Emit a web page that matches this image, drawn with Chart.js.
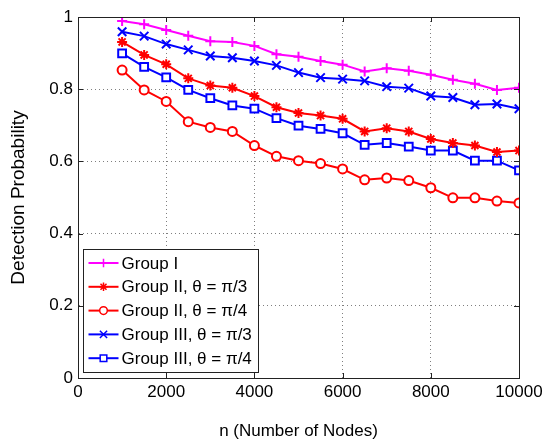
<!DOCTYPE html>
<html>
<head>
<meta charset="utf-8">
<script src="https://cdn.jsdelivr.net/npm/chart.js@4.4.1/dist/chart.umd.min.js"></script>
<style>
  html, body { margin: 0; padding: 0; background: #fff; overflow: hidden; }
</style>
</head>
<body>
<canvas id="chart" width="545" height="442"></canvas>
<script>
// node counts on the x axis
const nodes = [1000, 1500, 2000, 2500, 3000, 3500, 4000, 4500, 5000, 5500,
               6000, 6500, 7000, 7500, 8000, 8500, 9000, 9500, 10000];

// detection probability
const groupI       = [0.989, 0.980, 0.964, 0.948, 0.933, 0.931, 0.920, 0.897, 0.890, 0.878,
                      0.868, 0.849, 0.858, 0.851, 0.840, 0.826, 0.815, 0.798, 0.804];
const groupIIpi3   = [0.931, 0.895, 0.869, 0.830, 0.810, 0.804, 0.781, 0.750, 0.734, 0.727,
                      0.718, 0.683, 0.692, 0.683, 0.662, 0.651, 0.644, 0.626, 0.630];
const groupIIpi4   = [0.853, 0.798, 0.766, 0.710, 0.694, 0.683, 0.644, 0.614, 0.602, 0.594,
                      0.579, 0.549, 0.554, 0.547, 0.527, 0.499, 0.499, 0.490, 0.485];
const groupIIIpi3  = [0.959, 0.947, 0.925, 0.909, 0.892, 0.887, 0.878, 0.866, 0.846, 0.832,
                      0.828, 0.823, 0.807, 0.803, 0.781, 0.777, 0.757, 0.759, 0.746];
const groupIIIpi4  = [0.899, 0.862, 0.833, 0.798, 0.775, 0.755, 0.746, 0.720, 0.699, 0.690,
                      0.678, 0.646, 0.651, 0.641, 0.630, 0.630, 0.602, 0.602, 0.575];

const seriesLabels = ['Group I', 'Group II, \u03b8 = \u03c0/3', 'Group II, \u03b8 = \u03c0/4',
                      'Group III, \u03b8 = \u03c0/3', 'Group III, \u03b8 = \u03c0/4'];

const xTicks = [0, 2000, 4000, 6000, 8000, 10000];
const yTicks = [0, 0.2, 0.4, 0.6, 0.8, 1];

const FONT = '"Liberation Sans", Arial, Helvetica, sans-serif';

function series(label, values, color, style, radius, fill) {
    return {
        label: label,
        data: values.map((v, i) => ({ x: nodes[i], y: v })),
        borderColor: color,
        borderWidth: 2,
        pointStyle: style,
        pointRadius: radius,
        pointBorderColor: color,
        pointBackgroundColor: fill,
        pointBorderWidth: 2,
        tension: 0
    };
}

// MATLAB-like box, inward ticks and legend inside the axes
const matlabFrame = {
    id: 'matlabFrame',
    afterDatasetsDraw(chart) {
        const { ctx, chartArea: a, scales } = chart;
        ctx.save();
        ctx.strokeStyle = '#222';
        ctx.lineWidth = 1;
        ctx.setLineDash([]);
        ctx.beginPath();
        xTicks.forEach(t => {
            const px = Math.round(scales.x.getPixelForValue(t)) + 0.5;
            ctx.moveTo(px, a.bottom); ctx.lineTo(px, a.bottom - 5);
            ctx.moveTo(px, a.top); ctx.lineTo(px, a.top + 5);
        });
        yTicks.forEach(t => {
            const py = Math.round(scales.y.getPixelForValue(t)) + 0.5;
            ctx.moveTo(a.left, py); ctx.lineTo(a.left + 5, py);
            ctx.moveTo(a.right, py); ctx.lineTo(a.right - 5, py);
        });
        ctx.stroke();
        ctx.strokeRect(Math.round(a.left) + 0.5, Math.round(a.top) + 0.5,
                       Math.round(a.right - a.left), Math.round(a.bottom - a.top));

        // legend
        const bx = Math.round(a.left) + 5.5, bh = 123, bw = 175;
        const by = Math.round(a.bottom) - 5.5 - bh;
        ctx.fillStyle = '#fff';
        ctx.fillRect(bx, by, bw, bh);
        ctx.strokeStyle = '#222';
        ctx.strokeRect(bx, by, bw, bh);

        ctx.font = '17px ' + FONT;
        ctx.textBaseline = 'middle';
        chart.data.datasets.forEach((ds, i) => {
            const y = by + 13.5 + i * 23.8;
            ctx.strokeStyle = ds.borderColor;
            ctx.lineWidth = 2;
            ctx.beginPath();
            ctx.moveTo(bx + 5, y); ctx.lineTo(bx + 35, y);
            ctx.stroke();
            ctx.fillStyle = ds.pointBackgroundColor;
            ctx.lineWidth = 1.5;
            Chart.helpers.drawPoint(ctx, {
                pointStyle: ds.pointStyle,
                radius: ds.pointRadius * 0.85,
                rotation: 0,
                borderWidth: 1.5
            }, bx + 20, y);
            ctx.fillStyle = '#000';
            ctx.fillText(ds.label, bx + 38, y + 1);
        });
        ctx.restore();
    }
};

new Chart(document.getElementById('chart'), {
    type: 'line',
    data: {
        datasets: [
            series(seriesLabels[0], groupI, '#ff00ff', 'cross', 5, '#ff00ff'),
            series(seriesLabels[1], groupIIpi3, '#ff0000', 'star', 5, '#ff0000'),
            series(seriesLabels[2], groupIIpi4, '#ff0000', 'circle', 4.5, '#ffffff'),
            series(seriesLabels[3], groupIIIpi3, '#0000ff', 'crossRot', 6, '#0000ff'),
            series(seriesLabels[4], groupIIIpi4, '#0000ff', 'rect', 5.5, '#ffffff')
        ]
    },
    options: {
        responsive: false,
        animation: false,
        layout: { padding: { top: 17, right: 26, left: 0, bottom: 0 } },
        plugins: {
            legend: { display: false },
            tooltip: { enabled: false }
        },
        scales: {
            x: {
                type: 'linear',
                min: 0,
                max: 10000,
                afterBuildTicks: s => { s.ticks = xTicks.map(v => ({ value: v })); },
                afterFit: s => { s.height = 64; s.paddingLeft = 0; s.paddingRight = 0; },
                ticks: {
                    autoSkip: false,
                    maxRotation: 0,
                    padding: 4,
                    color: '#000',
                    font: { family: FONT, size: 17 },
                    callback: v => String(v)
                },
                grid: { color: 'rgba(0,0,0,0.5)', lineWidth: 1, drawTicks: false },
                border: { color: '#222', dash: [1, 3] },
                title: {
                    display: true,
                    text: 'n (Number of Nodes)',
                    color: '#000',
                    font: { family: FONT, size: 17 },
                    padding: { top: 0, bottom: 0 }
                }
            },
            y: {
                min: 0,
                max: 1,
                afterBuildTicks: s => { s.ticks = yTicks.map(v => ({ value: v })); },
                afterFit: s => { s.width = 78; },
                ticks: {
                    padding: 5,
                    color: '#000',
                    font: { family: FONT, size: 17 },
                    callback: v => String(v)
                },
                grid: { color: 'rgba(0,0,0,0.5)', lineWidth: 1, drawTicks: false },
                border: { color: '#222', dash: [1, 3] },
                title: {
                    display: true,
                    text: 'Detection Probability',
                    color: '#000',
                    font: { family: FONT, size: 19 },
                    padding: { top: 7, bottom: 0 }
                }
            }
        }
    },
    plugins: [matlabFrame]
});
</script>
</body>
</html>
